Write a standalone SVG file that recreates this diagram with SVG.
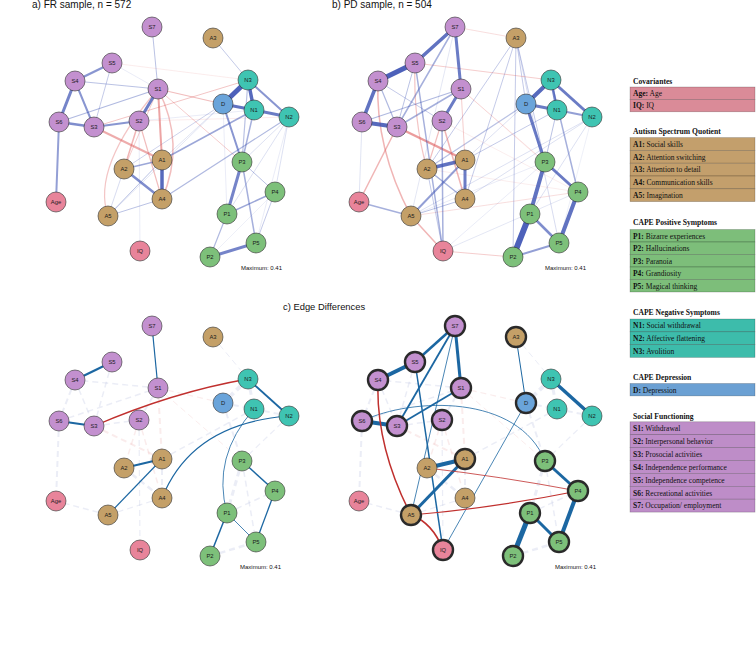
<svg xmlns="http://www.w3.org/2000/svg" width="756" height="671" viewBox="0 0 756 671">
<style>
text{font-family:"Liberation Sans",Arial,sans-serif}
.title{font-size:10px;fill:#111}
.max{font-size:6px;fill:#111}
.node circle{r:10;stroke:#2e2e2e;stroke-width:0.6}
.node text{font-size:5.8px;fill:#1a1a1a;text-anchor:middle}
.hl circle{stroke-width:2.4;stroke:#2a2a2a}
.cS circle{fill:#C390CF}.cA circle{fill:#C4A068}.cP circle{fill:#7DC07A}
.cN circle{fill:#3FC4B2}.cD circle{fill:#6AA4DA}.cC circle{fill:#E8849A}
.p{stroke:#3A50B2;fill:none;stroke-linecap:round}
.n{stroke:#DD5A5A;fill:none;stroke-linecap:round}
.dp{stroke:#1C67A2;fill:none}
.dn{stroke:#C0302E;fill:none}
.fp{stroke:#C6CBE6;fill:none;stroke-dasharray:6 4;stroke-opacity:0.35}
.fn{stroke:#F0C9C9;fill:none;stroke-dasharray:6 4;stroke-opacity:0.35}
.lg text{font-family:"Liberation Serif","Times New Roman",serif;font-size:7.5px;fill:#111}
.lg .hd{font-weight:bold;font-size:7.6px}
.lg .k{font-weight:bold}
.lg rect{stroke:#000;stroke-opacity:0.3;stroke-width:0.6}
.rC{fill:#DA8B98}.rA{fill:#C39F6C}.rP{fill:#7DBE7A}.rN{fill:#3DBCAB}.rD{fill:#6BA0D3}.rS{fill:#BE8DC8}
</style>
<rect width="756" height="671" fill="#ffffff"/>

<text class="title" x="32" y="8">a) FR sample, n = 572</text>
<text class="title" x="332" y="8">b) PD sample, n = 504</text>
<text class="title" x="283" y="309.5" style="font-size:9.4px">c) Edge Differences</text>
<text class="max" x="241" y="270">Maximum: 0.41</text>
<text class="max" x="545" y="270">Maximum: 0.41</text>
<text class="max" x="240" y="569">Maximum: 0.41</text>
<text class="max" x="555" y="569">Maximum: 0.41</text>

<!-- ===== Panel a ===== -->
<g id="panel-a">
<g id="edges-a">
<line class="p" x1="213" y1="38" x2="248" y2="80" stroke-width="1" stroke-opacity="0.3"/>
<line class="p" x1="124" y1="169" x2="223" y2="104" stroke-width="1" stroke-opacity="0.25"/>
<line class="p" x1="162" y1="160" x2="223" y2="104" stroke-width="0.8" stroke-opacity="0.2"/>
<line class="p" x1="289" y1="117" x2="242" y2="162" stroke-width="0.8" stroke-opacity="0.22"/>
<line class="p" x1="289" y1="117" x2="275" y2="192" stroke-width="0.8" stroke-opacity="0.22"/>
<line class="p" x1="289" y1="117" x2="256" y2="243" stroke-width="0.6" stroke-opacity="0.18"/>
<line class="p" x1="289" y1="117" x2="227" y2="214" stroke-width="0.8" stroke-opacity="0.22"/>
<line class="p" x1="139" y1="121" x2="254" y2="110" stroke-width="0.6" stroke-opacity="0.18"/>
<line class="p" x1="139" y1="121" x2="140" y2="251" stroke-width="0.6" stroke-opacity="0.18"/>
<line class="p" x1="112" y1="63" x2="158" y2="89" stroke-width="0.6" stroke-opacity="0.18"/>
<line class="p" x1="124" y1="169" x2="108" y2="216" stroke-width="0.8" stroke-opacity="0.25"/>
<line class="p" x1="108" y1="216" x2="223" y2="104" stroke-width="0.7" stroke-opacity="0.2"/>
<line class="p" x1="223" y1="104" x2="227" y2="214" stroke-width="0.6" stroke-opacity="0.18"/>
<line class="p" x1="210" y1="257" x2="275" y2="192" stroke-width="0.6" stroke-opacity="0.15"/>
<line class="n" x1="139" y1="121" x2="289" y2="117" stroke-width="0.6" stroke-opacity="0.2"/>
<line class="n" x1="112" y1="63" x2="248" y2="80" stroke-width="0.6" stroke-opacity="0.2"/>
<line class="n" x1="158" y1="89" x2="223" y2="104" stroke-width="1.2" stroke-opacity="0.4"/>
<line class="n" x1="94" y1="127" x2="248" y2="80" stroke-width="1" stroke-opacity="0.35"/>
<line class="n" x1="158" y1="89" x2="242" y2="162" stroke-width="1" stroke-opacity="0.3"/>
<line class="n" x1="158" y1="89" x2="124" y2="169" stroke-width="1" stroke-opacity="0.3"/>
<path class="n" d="M158,89 Q186,144 162,199" stroke-width="1.5" stroke-opacity="0.4"/>
<path class="n" d="M158,89 Q91,167 108,216" stroke-width="1.2" stroke-opacity="0.35"/>
<line class="n" x1="139" y1="121" x2="124" y2="169" stroke-width="1.5" stroke-opacity="0.45"/>
<line class="n" x1="139" y1="121" x2="162" y2="199" stroke-width="1.2" stroke-opacity="0.4"/>
<line class="n" x1="94" y1="127" x2="162" y2="160" stroke-width="2" stroke-opacity="0.5"/>
<line class="n" x1="158" y1="89" x2="162" y2="160" stroke-width="2" stroke-opacity="0.55"/>
<line class="p" x1="158" y1="89" x2="152" y2="27" stroke-width="1" stroke-opacity="0.35"/>
<line class="p" x1="158" y1="89" x2="75" y2="81" stroke-width="1" stroke-opacity="0.35"/>
<line class="p" x1="59" y1="122" x2="158" y2="89" stroke-width="1.2" stroke-opacity="0.4"/>
<line class="p" x1="94" y1="127" x2="112" y2="63" stroke-width="1" stroke-opacity="0.3"/>
<line class="p" x1="124" y1="169" x2="162" y2="160" stroke-width="1.5" stroke-opacity="0.5"/>
<line class="p" x1="108" y1="216" x2="162" y2="199" stroke-width="1" stroke-opacity="0.35"/>
<line class="p" x1="108" y1="216" x2="162" y2="160" stroke-width="1" stroke-opacity="0.35"/>
<line class="p" x1="162" y1="160" x2="254" y2="110" stroke-width="1.5" stroke-opacity="0.5"/>
<line class="p" x1="162" y1="199" x2="289" y2="117" stroke-width="1.2" stroke-opacity="0.4"/>
<line class="p" x1="242" y1="162" x2="275" y2="192" stroke-width="1" stroke-opacity="0.35"/>
<line class="p" x1="275" y1="192" x2="256" y2="243" stroke-width="1" stroke-opacity="0.3"/>
<line class="p" x1="210" y1="257" x2="227" y2="214" stroke-width="1.2" stroke-opacity="0.4"/>
<line class="p" x1="242" y1="162" x2="256" y2="243" stroke-width="1.5" stroke-opacity="0.45"/>
<line class="p" x1="227" y1="214" x2="275" y2="192" stroke-width="1.5" stroke-opacity="0.5"/>
<line class="p" x1="248" y1="80" x2="242" y2="162" stroke-width="1.2" stroke-opacity="0.35"/>
<line class="p" x1="254" y1="110" x2="242" y2="162" stroke-width="1.5" stroke-opacity="0.45"/>
<line class="p" x1="223" y1="104" x2="242" y2="162" stroke-width="2" stroke-opacity="0.6"/>
<line class="p" x1="242" y1="162" x2="227" y2="214" stroke-width="3" stroke-opacity="0.7"/>
<line class="p" x1="210" y1="257" x2="256" y2="243" stroke-width="3" stroke-opacity="0.7"/>
<line class="p" x1="59" y1="122" x2="56" y2="202" stroke-width="2" stroke-opacity="0.55"/>
<line class="p" x1="94" y1="127" x2="139" y2="121" stroke-width="2" stroke-opacity="0.6"/>
<line class="p" x1="75" y1="81" x2="94" y2="127" stroke-width="2" stroke-opacity="0.6"/>
<line class="p" x1="75" y1="81" x2="112" y2="63" stroke-width="2.5" stroke-opacity="0.6"/>
<line class="p" x1="59" y1="122" x2="94" y2="127" stroke-width="2.5" stroke-opacity="0.65"/>
<line class="p" x1="75" y1="81" x2="59" y2="122" stroke-width="3" stroke-opacity="0.7"/>
<line class="p" x1="158" y1="89" x2="139" y2="121" stroke-width="3" stroke-opacity="0.75"/>
<line class="p" x1="124" y1="169" x2="162" y2="199" stroke-width="2.5" stroke-opacity="0.65"/>
<line class="p" x1="162" y1="160" x2="162" y2="199" stroke-width="3.5" stroke-opacity="0.85"/>
<line class="p" x1="248" y1="80" x2="289" y2="117" stroke-width="2" stroke-opacity="0.6"/>
<line class="p" x1="254" y1="110" x2="289" y2="117" stroke-width="3" stroke-opacity="0.75"/>
<line class="p" x1="223" y1="104" x2="254" y2="110" stroke-width="3" stroke-opacity="0.8"/>
<line class="p" x1="248" y1="80" x2="254" y2="110" stroke-width="3.5" stroke-opacity="0.85"/>
<line class="p" x1="248" y1="80" x2="223" y2="104" stroke-width="5" stroke-opacity="0.9"/>
</g>
<g id="nodes-a">
<g id="a-S7" class="node cS"><circle cx="152" cy="27"/><text x="152" y="29">S7</text></g>
<g id="a-A3" class="node cA"><circle cx="213" cy="38"/><text x="213" y="40">A3</text></g>
<g id="a-S5" class="node cS"><circle cx="112" cy="63"/><text x="112" y="65">S5</text></g>
<g id="a-S4" class="node cS"><circle cx="75" cy="81"/><text x="75" y="83">S4</text></g>
<g id="a-S1" class="node cS"><circle cx="158" cy="89"/><text x="158" y="91">S1</text></g>
<g id="a-N3" class="node cN"><circle cx="248" cy="80"/><text x="248" y="82">N3</text></g>
<g id="a-D" class="node cD"><circle cx="223" cy="104"/><text x="223" y="106">D</text></g>
<g id="a-N1" class="node cN"><circle cx="254" cy="110"/><text x="254" y="112">N1</text></g>
<g id="a-N2" class="node cN"><circle cx="289" cy="117"/><text x="289" y="119">N2</text></g>
<g id="a-S6" class="node cS"><circle cx="59" cy="122"/><text x="59" y="124">S6</text></g>
<g id="a-S3" class="node cS"><circle cx="94" cy="127"/><text x="94" y="129">S3</text></g>
<g id="a-S2" class="node cS"><circle cx="139" cy="121"/><text x="139" y="123">S2</text></g>
<g id="a-A1" class="node cA"><circle cx="162" cy="160"/><text x="162" y="162">A1</text></g>
<g id="a-A2" class="node cA"><circle cx="124" cy="169"/><text x="124" y="171">A2</text></g>
<g id="a-P3" class="node cP"><circle cx="242" cy="162"/><text x="242" y="164">P3</text></g>
<g id="a-P4" class="node cP"><circle cx="275" cy="192"/><text x="275" y="194">P4</text></g>
<g id="a-A4" class="node cA"><circle cx="162" cy="199"/><text x="162" y="201">A4</text></g>
<g id="a-Age" class="node cC"><circle cx="56" cy="202"/><text x="56" y="204">Age</text></g>
<g id="a-A5" class="node cA"><circle cx="108" cy="216"/><text x="108" y="218">A5</text></g>
<g id="a-P1" class="node cP"><circle cx="227" cy="214"/><text x="227" y="216">P1</text></g>
<g id="a-P5" class="node cP"><circle cx="256" cy="243"/><text x="256" y="245">P5</text></g>
<g id="a-IQ" class="node cC"><circle cx="140" cy="251"/><text x="140" y="253">IQ</text></g>
<g id="a-P2" class="node cP"><circle cx="210" cy="257"/><text x="210" y="259">P2</text></g>
</g>
</g>

<!-- ===== Panel b ===== -->
<g id="panel-b" transform="translate(303,0)">
<g id="edges-b">
<line class="p" x1="59" y1="122" x2="56" y2="202" stroke-width="0.8" stroke-opacity="0.2"/>
<line class="p" x1="162" y1="160" x2="254" y2="110" stroke-width="1" stroke-opacity="0.3"/>
<line class="p" x1="162" y1="160" x2="223" y2="104" stroke-width="0.8" stroke-opacity="0.22"/>
<line class="p" x1="108" y1="216" x2="289" y2="117" stroke-width="0.8" stroke-opacity="0.22"/>
<line class="p" x1="162" y1="199" x2="289" y2="117" stroke-width="0.8" stroke-opacity="0.22"/>
<line class="p" x1="140" y1="251" x2="275" y2="192" stroke-width="0.7" stroke-opacity="0.2"/>
<line class="p" x1="140" y1="251" x2="242" y2="162" stroke-width="0.6" stroke-opacity="0.18"/>
<line class="p" x1="108" y1="216" x2="242" y2="162" stroke-width="0.6" stroke-opacity="0.18"/>
<line class="p" x1="289" y1="117" x2="227" y2="214" stroke-width="0.8" stroke-opacity="0.22"/>
<line class="p" x1="289" y1="117" x2="256" y2="243" stroke-width="0.6" stroke-opacity="0.15"/>
<line class="p" x1="213" y1="38" x2="124" y2="169" stroke-width="1" stroke-opacity="0.3"/>
<line class="p" x1="213" y1="38" x2="162" y2="199" stroke-width="1" stroke-opacity="0.3"/>
<line class="p" x1="213" y1="38" x2="223" y2="104" stroke-width="1" stroke-opacity="0.3"/>
<line class="p" x1="213" y1="38" x2="242" y2="162" stroke-width="1" stroke-opacity="0.3"/>
<line class="p" x1="213" y1="38" x2="210" y2="257" stroke-width="1" stroke-opacity="0.3"/>
<line class="p" x1="213" y1="38" x2="256" y2="243" stroke-width="0.8" stroke-opacity="0.25"/>
<line class="p" x1="124" y1="169" x2="223" y2="104" stroke-width="1.2" stroke-opacity="0.35"/>
<line class="p" x1="75" y1="81" x2="139" y2="121" stroke-width="1" stroke-opacity="0.3"/>
<line class="p" x1="152" y1="27" x2="108" y2="216" stroke-width="0.7" stroke-opacity="0.2"/>
<line class="n" x1="152" y1="27" x2="213" y2="38" stroke-width="0.8" stroke-opacity="0.25"/>
<line class="n" x1="112" y1="63" x2="248" y2="80" stroke-width="1" stroke-opacity="0.3"/>
<line class="n" x1="158" y1="89" x2="242" y2="162" stroke-width="0.8" stroke-opacity="0.2"/>
<line class="n" x1="158" y1="89" x2="275" y2="192" stroke-width="0.7" stroke-opacity="0.18"/>
<line class="n" x1="124" y1="169" x2="275" y2="192" stroke-width="0.6" stroke-opacity="0.18"/>
<line class="n" x1="139" y1="121" x2="275" y2="192" stroke-width="0.6" stroke-opacity="0.18"/>
<line class="n" x1="108" y1="216" x2="275" y2="192" stroke-width="0.8" stroke-opacity="0.25"/>
<line class="n" x1="140" y1="251" x2="210" y2="257" stroke-width="1" stroke-opacity="0.3"/>
<line class="n" x1="158" y1="89" x2="162" y2="160" stroke-width="1" stroke-opacity="0.3"/>
<path class="n" d="M112,63 Q110,120 124,169" stroke-width="1.2" stroke-opacity="0.35"/>
<line class="n" x1="139" y1="121" x2="124" y2="169" stroke-width="1.2" stroke-opacity="0.4"/>
<line class="n" x1="139" y1="121" x2="162" y2="199" stroke-width="1.5" stroke-opacity="0.45"/>
<line class="n" x1="108" y1="216" x2="140" y2="251" stroke-width="1.5" stroke-opacity="0.45"/>
<path class="n" d="M75,81 Q72,148 108,216" stroke-width="1.5" stroke-opacity="0.45"/>
<line class="n" x1="94" y1="127" x2="56" y2="202" stroke-width="1.5" stroke-opacity="0.45"/>
<line class="n" x1="94" y1="127" x2="162" y2="160" stroke-width="2.5" stroke-opacity="0.6"/>
<line class="p" x1="124" y1="169" x2="140" y2="251" stroke-width="1" stroke-opacity="0.3"/>
<line class="p" x1="108" y1="216" x2="162" y2="199" stroke-width="1" stroke-opacity="0.35"/>
<line class="p" x1="124" y1="169" x2="162" y2="199" stroke-width="1.5" stroke-opacity="0.45"/>
<line class="p" x1="108" y1="216" x2="56" y2="202" stroke-width="1.5" stroke-opacity="0.45"/>
<line class="p" x1="162" y1="160" x2="108" y2="216" stroke-width="2" stroke-opacity="0.55"/>
<line class="p" x1="112" y1="63" x2="140" y2="251" stroke-width="1.5" stroke-opacity="0.45"/>
<line class="p" x1="139" y1="121" x2="140" y2="251" stroke-width="1.5" stroke-opacity="0.45"/>
<line class="p" x1="112" y1="63" x2="94" y2="127" stroke-width="1" stroke-opacity="0.35"/>
<line class="p" x1="75" y1="81" x2="94" y2="127" stroke-width="1.2" stroke-opacity="0.4"/>
<line class="p" x1="158" y1="89" x2="59" y2="122" stroke-width="1.2" stroke-opacity="0.4"/>
<line class="p" x1="158" y1="89" x2="94" y2="127" stroke-width="1.5" stroke-opacity="0.45"/>
<line class="p" x1="152" y1="27" x2="94" y2="127" stroke-width="1.5" stroke-opacity="0.45"/>
<line class="p" x1="254" y1="110" x2="242" y2="162" stroke-width="1" stroke-opacity="0.35"/>
<line class="p" x1="248" y1="80" x2="275" y2="192" stroke-width="1.5" stroke-opacity="0.45"/>
<line class="p" x1="210" y1="257" x2="256" y2="243" stroke-width="2" stroke-opacity="0.55"/>
<line class="p" x1="227" y1="214" x2="256" y2="243" stroke-width="2.5" stroke-opacity="0.65"/>
<line class="p" x1="275" y1="192" x2="256" y2="243" stroke-width="4" stroke-opacity="0.8"/>
<line class="p" x1="227" y1="214" x2="210" y2="257" stroke-width="6" stroke-opacity="0.9"/>
<line class="p" x1="242" y1="162" x2="227" y2="214" stroke-width="4" stroke-opacity="0.8"/>
<line class="p" x1="242" y1="162" x2="275" y2="192" stroke-width="3" stroke-opacity="0.75"/>
<line class="p" x1="223" y1="104" x2="242" y2="162" stroke-width="3" stroke-opacity="0.75"/>
<line class="p" x1="254" y1="110" x2="289" y2="117" stroke-width="2" stroke-opacity="0.55"/>
<line class="p" x1="248" y1="80" x2="289" y2="117" stroke-width="3" stroke-opacity="0.75"/>
<line class="p" x1="223" y1="104" x2="254" y2="110" stroke-width="3" stroke-opacity="0.75"/>
<line class="p" x1="248" y1="80" x2="254" y2="110" stroke-width="2.5" stroke-opacity="0.7"/>
<line class="p" x1="248" y1="80" x2="223" y2="104" stroke-width="4" stroke-opacity="0.85"/>
<line class="p" x1="162" y1="160" x2="162" y2="199" stroke-width="3" stroke-opacity="0.75"/>
<line class="p" x1="162" y1="160" x2="124" y2="169" stroke-width="3.5" stroke-opacity="0.8"/>
<line class="p" x1="158" y1="89" x2="139" y2="121" stroke-width="3" stroke-opacity="0.75"/>
<line class="p" x1="152" y1="27" x2="158" y2="89" stroke-width="3" stroke-opacity="0.75"/>
<line class="p" x1="59" y1="122" x2="94" y2="127" stroke-width="4" stroke-opacity="0.85"/>
<line class="p" x1="75" y1="81" x2="59" y2="122" stroke-width="3.5" stroke-opacity="0.8"/>
<line class="p" x1="112" y1="63" x2="75" y2="81" stroke-width="5" stroke-opacity="0.9"/>
<line class="p" x1="152" y1="27" x2="112" y2="63" stroke-width="3.5" stroke-opacity="0.8"/>
</g>
<g id="nodes-b">
<g id="b-S7" class="node cS"><circle cx="152" cy="27"/><text x="152" y="29">S7</text></g>
<g id="b-A3" class="node cA"><circle cx="213" cy="38"/><text x="213" y="40">A3</text></g>
<g id="b-S5" class="node cS"><circle cx="112" cy="63"/><text x="112" y="65">S5</text></g>
<g id="b-S4" class="node cS"><circle cx="75" cy="81"/><text x="75" y="83">S4</text></g>
<g id="b-S1" class="node cS"><circle cx="158" cy="89"/><text x="158" y="91">S1</text></g>
<g id="b-N3" class="node cN"><circle cx="248" cy="80"/><text x="248" y="82">N3</text></g>
<g id="b-D" class="node cD"><circle cx="223" cy="104"/><text x="223" y="106">D</text></g>
<g id="b-N1" class="node cN"><circle cx="254" cy="110"/><text x="254" y="112">N1</text></g>
<g id="b-N2" class="node cN"><circle cx="289" cy="117"/><text x="289" y="119">N2</text></g>
<g id="b-S6" class="node cS"><circle cx="59" cy="122"/><text x="59" y="124">S6</text></g>
<g id="b-S3" class="node cS"><circle cx="94" cy="127"/><text x="94" y="129">S3</text></g>
<g id="b-S2" class="node cS"><circle cx="139" cy="121"/><text x="139" y="123">S2</text></g>
<g id="b-A1" class="node cA"><circle cx="162" cy="160"/><text x="162" y="162">A1</text></g>
<g id="b-A2" class="node cA"><circle cx="124" cy="169"/><text x="124" y="171">A2</text></g>
<g id="b-P3" class="node cP"><circle cx="242" cy="162"/><text x="242" y="164">P3</text></g>
<g id="b-P4" class="node cP"><circle cx="275" cy="192"/><text x="275" y="194">P4</text></g>
<g id="b-A4" class="node cA"><circle cx="162" cy="199"/><text x="162" y="201">A4</text></g>
<g id="b-Age" class="node cC"><circle cx="56" cy="202"/><text x="56" y="204">Age</text></g>
<g id="b-A5" class="node cA"><circle cx="108" cy="216"/><text x="108" y="218">A5</text></g>
<g id="b-P1" class="node cP"><circle cx="227" cy="214"/><text x="227" y="216">P1</text></g>
<g id="b-P5" class="node cP"><circle cx="256" cy="243"/><text x="256" y="245">P5</text></g>
<g id="b-IQ" class="node cC"><circle cx="140" cy="251"/><text x="140" y="253">IQ</text></g>
<g id="b-P2" class="node cP"><circle cx="210" cy="257"/><text x="210" y="259">P2</text></g>
</g>
</g>

<defs>
<g id="faint">
<line class="fp" x1="59" y1="122" x2="56" y2="202" stroke-width="2"/>
<line class="fp" x1="75" y1="81" x2="59" y2="122" stroke-width="2"/>
<line class="fp" x1="94" y1="127" x2="112" y2="63" stroke-width="1.5"/>
<line class="fp" x1="75" y1="81" x2="94" y2="127" stroke-width="1.5"/>
<line class="fp" x1="158" y1="89" x2="139" y2="121" stroke-width="2"/>
<line class="fp" x1="94" y1="127" x2="139" y2="121" stroke-width="1.5"/>
<line class="fp" x1="158" y1="89" x2="75" y2="81" stroke-width="1.5"/>
<line class="fp" x1="59" y1="122" x2="158" y2="89" stroke-width="1.5"/>
<line class="fp" x1="248" y1="80" x2="223" y2="104" stroke-width="4"/>
<line class="fp" x1="248" y1="80" x2="254" y2="110" stroke-width="3"/>
<line class="fp" x1="223" y1="104" x2="254" y2="110" stroke-width="2"/>
<line class="fp" x1="254" y1="110" x2="289" y2="117" stroke-width="2"/>
<line class="fp" x1="223" y1="104" x2="242" y2="162" stroke-width="2"/>
<line class="fp" x1="162" y1="160" x2="162" y2="199" stroke-width="2"/>
<line class="fp" x1="124" y1="169" x2="162" y2="199" stroke-width="2.5"/>
<line class="fp" x1="242" y1="162" x2="227" y2="214" stroke-width="3"/>
<line class="fp" x1="210" y1="257" x2="256" y2="243" stroke-width="2.5"/>
<line class="fp" x1="108" y1="216" x2="56" y2="202" stroke-width="1.5"/>
<line class="fp" x1="139" y1="121" x2="140" y2="251" stroke-width="1.2"/>
<line class="fp" x1="162" y1="160" x2="254" y2="110" stroke-width="1.5"/>
<line class="fp" x1="227" y1="214" x2="275" y2="192" stroke-width="1.5"/>
<line class="fp" x1="108" y1="216" x2="162" y2="199" stroke-width="1.2"/>
<line class="fp" x1="289" y1="117" x2="242" y2="162" stroke-width="1.2"/>
<line class="fp" x1="242" y1="162" x2="256" y2="243" stroke-width="1.5"/>
<line class="fp" x1="213" y1="38" x2="248" y2="80" stroke-width="1"/>
<line class="fn" x1="94" y1="127" x2="162" y2="160" stroke-width="2"/>
<line class="fn" x1="158" y1="89" x2="162" y2="160" stroke-width="2"/>
<line class="fn" x1="139" y1="121" x2="124" y2="169" stroke-width="1.5"/>
<line class="fn" x1="139" y1="121" x2="162" y2="199" stroke-width="1.5"/>
<line class="fn" x1="158" y1="89" x2="223" y2="104" stroke-width="1.2"/>
<line class="fn" x1="158" y1="89" x2="242" y2="162" stroke-width="1"/>
</g>
</defs>

<!-- ===== Panel c ===== -->
<g id="panel-c" transform="translate(0,299)">
<g id="edges-c">
<use href="#faint"/>
<line class="dp" x1="75" y1="81" x2="112" y2="63" stroke-width="2.2"/>
<line class="dp" x1="59" y1="122" x2="94" y2="127" stroke-width="2.2"/>
<line class="dp" x1="152" y1="27" x2="158" y2="89" stroke-width="1.2"/>
<line class="dp" x1="248" y1="80" x2="289" y2="117" stroke-width="1.8"/>
<line class="dp" x1="124" y1="169" x2="162" y2="160" stroke-width="2"/>
<line class="dp" x1="162" y1="160" x2="108" y2="216" stroke-width="1.2"/>
<path class="dp" d="M162,199 Q192,124 289,117" stroke-width="1.2"/>
<path class="dp" d="M254,110 Q211.5,158 227,214" stroke-width="0.8"/>
<line class="dp" x1="242" y1="162" x2="275" y2="192" stroke-width="1.5"/>
<line class="dp" x1="275" y1="192" x2="256" y2="243" stroke-width="1.3"/>
<line class="dp" x1="227" y1="214" x2="256" y2="243" stroke-width="0.8"/>
<line class="dp" x1="227" y1="214" x2="210" y2="257" stroke-width="1.5"/>
<path class="dn" d="M94,127 Q173,93 248,80" stroke-width="1.3"/>
</g>
<g id="nodes-c">
<g id="c-S7" class="node cS"><circle cx="152" cy="27"/><text x="152" y="29">S7</text></g>
<g id="c-A3" class="node cA"><circle cx="213" cy="38"/><text x="213" y="40">A3</text></g>
<g id="c-S5" class="node cS"><circle cx="112" cy="63"/><text x="112" y="65">S5</text></g>
<g id="c-S4" class="node cS"><circle cx="75" cy="81"/><text x="75" y="83">S4</text></g>
<g id="c-S1" class="node cS"><circle cx="158" cy="89"/><text x="158" y="91">S1</text></g>
<g id="c-N3" class="node cN"><circle cx="248" cy="80"/><text x="248" y="82">N3</text></g>
<g id="c-D" class="node cD"><circle cx="223" cy="104"/><text x="223" y="106">D</text></g>
<g id="c-N1" class="node cN"><circle cx="254" cy="110"/><text x="254" y="112">N1</text></g>
<g id="c-N2" class="node cN"><circle cx="289" cy="117"/><text x="289" y="119">N2</text></g>
<g id="c-S6" class="node cS"><circle cx="59" cy="122"/><text x="59" y="124">S6</text></g>
<g id="c-S3" class="node cS"><circle cx="94" cy="127"/><text x="94" y="129">S3</text></g>
<g id="c-S2" class="node cS"><circle cx="139" cy="121"/><text x="139" y="123">S2</text></g>
<g id="c-A1" class="node cA"><circle cx="162" cy="160"/><text x="162" y="162">A1</text></g>
<g id="c-A2" class="node cA"><circle cx="124" cy="169"/><text x="124" y="171">A2</text></g>
<g id="c-P3" class="node cP"><circle cx="242" cy="162"/><text x="242" y="164">P3</text></g>
<g id="c-P4" class="node cP"><circle cx="275" cy="192"/><text x="275" y="194">P4</text></g>
<g id="c-A4" class="node cA"><circle cx="162" cy="199"/><text x="162" y="201">A4</text></g>
<g id="c-Age" class="node cC"><circle cx="56" cy="202"/><text x="56" y="204">Age</text></g>
<g id="c-A5" class="node cA"><circle cx="108" cy="216"/><text x="108" y="218">A5</text></g>
<g id="c-P1" class="node cP"><circle cx="227" cy="214"/><text x="227" y="216">P1</text></g>
<g id="c-P5" class="node cP"><circle cx="256" cy="243"/><text x="256" y="245">P5</text></g>
<g id="c-IQ" class="node cC"><circle cx="140" cy="251"/><text x="140" y="253">IQ</text></g>
<g id="c-P2" class="node cP"><circle cx="210" cy="257"/><text x="210" y="259">P2</text></g>
</g>
</g>

<!-- ===== Panel d ===== -->
<g id="panel-d" transform="translate(303,299)">
<g id="edges-d">
<use href="#faint"/>
<line class="dp" x1="152" y1="27" x2="112" y2="63" stroke-width="2.5"/>
<line class="dp" x1="112" y1="63" x2="75" y2="81" stroke-width="4"/>
<line class="dp" x1="59" y1="122" x2="94" y2="127" stroke-width="4"/>
<line class="dp" x1="152" y1="27" x2="158" y2="89" stroke-width="3"/>
<line class="dp" x1="152" y1="27" x2="94" y2="127" stroke-width="1.8"/>
<line class="dp" x1="152" y1="27" x2="108" y2="216" stroke-width="0.8"/>
<line class="dp" x1="158" y1="89" x2="94" y2="127" stroke-width="1.8"/>
<line class="dp" x1="112" y1="63" x2="140" y2="251" stroke-width="1.5"/>
<path class="dp" d="M59,122 C110,98 215,95 242,162" stroke-width="0.8"/>
<line class="dp" x1="162" y1="160" x2="124" y2="169" stroke-width="4"/>
<line class="dp" x1="162" y1="160" x2="108" y2="216" stroke-width="3"/>
<line class="dp" x1="213" y1="38" x2="223" y2="104" stroke-width="1"/>
<line class="dp" x1="223" y1="104" x2="140" y2="251" stroke-width="0.8"/>
<line class="dp" x1="248" y1="80" x2="289" y2="117" stroke-width="3.5"/>
<line class="dp" x1="242" y1="162" x2="275" y2="192" stroke-width="3"/>
<line class="dp" x1="275" y1="192" x2="256" y2="243" stroke-width="4"/>
<line class="dp" x1="227" y1="214" x2="256" y2="243" stroke-width="3"/>
<line class="dp" x1="227" y1="214" x2="210" y2="257" stroke-width="5"/>
<path class="dn" d="M75,81 Q72.5,147.5 108,216" stroke-width="1.5"/>
<path class="dn" d="M108,216 Q130,224 140,251" stroke-width="1.8"/>
<path class="dn" d="M108,216 Q188.5,209.4 275,192" stroke-width="1.2"/>
<path class="dn" d="M124,169 Q195,177 275,192" stroke-width="0.8"/>
</g>
<g id="nodes-d">
<g id="d-S7" class="node cS hl"><circle cx="152" cy="27"/><text x="152" y="29">S7</text></g>
<g id="d-A3" class="node cA hl"><circle cx="213" cy="38"/><text x="213" y="40">A3</text></g>
<g id="d-S5" class="node cS hl"><circle cx="112" cy="63"/><text x="112" y="65">S5</text></g>
<g id="d-S4" class="node cS hl"><circle cx="75" cy="81"/><text x="75" y="83">S4</text></g>
<g id="d-S1" class="node cS hl"><circle cx="158" cy="89"/><text x="158" y="91">S1</text></g>
<g id="d-N3" class="node cN"><circle cx="248" cy="80"/><text x="248" y="82">N3</text></g>
<g id="d-D" class="node cD hl"><circle cx="223" cy="104"/><text x="223" y="106">D</text></g>
<g id="d-N1" class="node cN"><circle cx="254" cy="110"/><text x="254" y="112">N1</text></g>
<g id="d-N2" class="node cN"><circle cx="289" cy="117"/><text x="289" y="119">N2</text></g>
<g id="d-S6" class="node cS hl"><circle cx="59" cy="122"/><text x="59" y="124">S6</text></g>
<g id="d-S3" class="node cS hl"><circle cx="94" cy="127"/><text x="94" y="129">S3</text></g>
<g id="d-S2" class="node cS hl"><circle cx="139" cy="121"/><text x="139" y="123">S2</text></g>
<g id="d-A1" class="node cA hl"><circle cx="162" cy="160"/><text x="162" y="162">A1</text></g>
<g id="d-A2" class="node cA"><circle cx="124" cy="169"/><text x="124" y="171">A2</text></g>
<g id="d-P3" class="node cP hl"><circle cx="242" cy="162"/><text x="242" y="164">P3</text></g>
<g id="d-P4" class="node cP hl"><circle cx="275" cy="192"/><text x="275" y="194">P4</text></g>
<g id="d-A4" class="node cA"><circle cx="162" cy="199"/><text x="162" y="201">A4</text></g>
<g id="d-Age" class="node cC"><circle cx="56" cy="202"/><text x="56" y="204">Age</text></g>
<g id="d-A5" class="node cA hl"><circle cx="108" cy="216"/><text x="108" y="218">A5</text></g>
<g id="d-P1" class="node cP hl"><circle cx="227" cy="214"/><text x="227" y="216">P1</text></g>
<g id="d-P5" class="node cP hl"><circle cx="256" cy="243"/><text x="256" y="245">P5</text></g>
<g id="d-IQ" class="node cC hl"><circle cx="140" cy="251"/><text x="140" y="253">IQ</text></g>
<g id="d-P2" class="node cP hl"><circle cx="210" cy="257"/><text x="210" y="259">P2</text></g>
</g>
</g>

<!-- ===== Legend ===== -->
<g id="legend" class="lg">
<g id="lg-cov">
<text class="hd" x="633" y="83.5">Covariantes</text>
<rect class="rC" x="630" y="87" width="125" height="12.4"/><text x="633" y="96"><tspan class="k">Age:</tspan> Age</text>
<rect class="rC" x="630" y="99.4" width="125" height="12.4"/><text x="633" y="108.4"><tspan class="k">IQ:</tspan> IQ</text>
</g>
<g id="lg-aq">
<text class="hd" x="633" y="134">Autism Spectrum Quotient</text>
<rect class="rA" x="630" y="137.6" width="125" height="12.8"/><text x="633" y="146.8"><tspan class="k">A1:</tspan> Social skills</text>
<rect class="rA" x="630" y="150.4" width="125" height="12.8"/><text x="633" y="159.6"><tspan class="k">A2:</tspan> Attention switching</text>
<rect class="rA" x="630" y="163.2" width="125" height="12.8"/><text x="633" y="172.4"><tspan class="k">A3:</tspan> Attention to detail</text>
<rect class="rA" x="630" y="176" width="125" height="12.8"/><text x="633" y="185.2"><tspan class="k">A4:</tspan> Communication skills</text>
<rect class="rA" x="630" y="188.8" width="125" height="12.8"/><text x="633" y="198"><tspan class="k">A5:</tspan> Imagination</text>
</g>
<g id="lg-pos">
<text class="hd" x="633" y="224.5">CAPE Positive Symptoms</text>
<rect class="rP" x="630" y="229.5" width="125" height="12.5"/><text x="633" y="238.6"><tspan class="k">P1:</tspan> Bizarre experiences</text>
<rect class="rP" x="630" y="242" width="125" height="12.5"/><text x="633" y="251.1"><tspan class="k">P2:</tspan> Hallucinations</text>
<rect class="rP" x="630" y="254.5" width="125" height="12.5"/><text x="633" y="263.6"><tspan class="k">P3:</tspan> Paranoia</text>
<rect class="rP" x="630" y="267" width="125" height="12.5"/><text x="633" y="276.1"><tspan class="k">P4:</tspan> Grandiosity</text>
<rect class="rP" x="630" y="279.5" width="125" height="12.5"/><text x="633" y="288.6"><tspan class="k">P5:</tspan> Magical thinking</text>
</g>
<g id="lg-neg">
<text class="hd" x="633" y="314.5">CAPE Negative Symptoms</text>
<rect class="rN" x="630" y="319" width="125" height="12.8"/><text x="633" y="328.2"><tspan class="k">N1:</tspan> Social withdrawal</text>
<rect class="rN" x="630" y="331.8" width="125" height="12.8"/><text x="633" y="341"><tspan class="k">N2:</tspan> Affective flattening</text>
<rect class="rN" x="630" y="344.6" width="125" height="12.8"/><text x="633" y="353.8"><tspan class="k">N3:</tspan> Avolition</text>
</g>
<g id="lg-dep">
<text class="hd" x="633" y="379.5">CAPE Depression</text>
<rect class="rD" x="630" y="383.5" width="125" height="12.4"/><text x="633" y="392.5"><tspan class="k">D:</tspan> Depression</text>
</g>
<g id="lg-sf">
<text class="hd" x="633" y="418.5">Social Functioning</text>
<rect class="rS" x="630" y="421.8" width="125" height="12.9"/><text x="633" y="431"><tspan class="k">S1:</tspan> Withdrawal</text>
<rect class="rS" x="630" y="434.7" width="125" height="12.9"/><text x="633" y="443.9"><tspan class="k">S2:</tspan> Interpersonal behavior</text>
<rect class="rS" x="630" y="447.6" width="125" height="12.9"/><text x="633" y="456.8"><tspan class="k">S3:</tspan> Prosocial activities</text>
<rect class="rS" x="630" y="460.5" width="125" height="12.9"/><text x="633" y="469.7"><tspan class="k">S4:</tspan> Independence performance</text>
<rect class="rS" x="630" y="473.4" width="125" height="12.9"/><text x="633" y="482.6"><tspan class="k">S5:</tspan> Independence competence</text>
<rect class="rS" x="630" y="486.3" width="125" height="12.9"/><text x="633" y="495.5"><tspan class="k">S6:</tspan> Recreational activities</text>
<rect class="rS" x="630" y="499.2" width="125" height="12.9"/><text x="633" y="508.4"><tspan class="k">S7:</tspan> Occupation/ employment</text>
</g>
</g>
</svg>
